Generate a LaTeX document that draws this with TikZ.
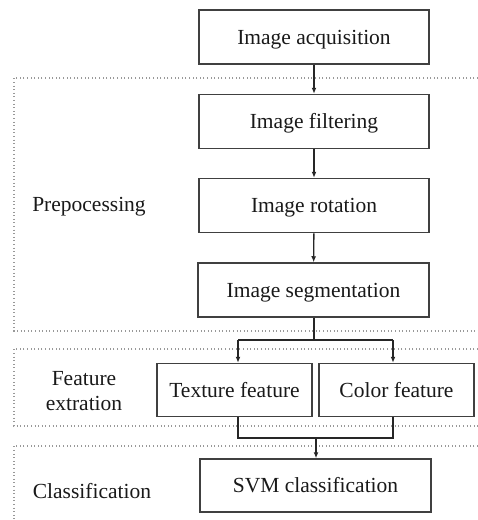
\documentclass[tikz,border=0pt]{standalone}
\usepackage{fontspec}
\setmainfont{Liberation Serif}
\usetikzlibrary{
  positioning,
  arrows.meta,
  calc,
  }

\begin{document}
\begin{tikzpicture}[x=1pt,y=-1pt,
    every node/.style={font=\fontsize{21.5}{25}\selectfont, text=black!90},
    stage/.style={draw=black!75, line width=1.5pt, minimum height=54pt, inner sep=0pt,
      text height=14pt, text depth=0pt},
    zone/.style={draw=black!40, line width=1.1pt, dash pattern=on 1pt off 2.6pt},
    link/.style={draw=black!85, line width=1.4pt},
    flow/.style={link, -{Latex[length=6pt,width=5pt]}}]
                \useasboundingbox (0,0) rectangle (478,520);
                % dotted stage areas
                \draw[zone] (478,78) -- (14,78) -- (14,331) -- (478,331);
                \draw[zone] (478,349) -- (14,349) -- (14,426) -- (478,426);
                \draw[zone] (478,446) -- (14,446) -- (14,520);
                % area labels
                \node (pre) at (89,207) {Prepocessing};
                \node[align=center] (feat) at (84,391) {Feature\\extration};
                \node (cls) at (92,491) {Classification};
                % steps
                \node[stage, minimum width=230pt] (acq) at (314,37) {Image acquisition};
                \node[stage, minimum width=230pt] (filt) at (314,121.5) {Image filtering};
                \node[stage, minimum width=230pt] (rot) at (314,205.5) {Image rotation};
                \node[stage, minimum width=231pt] (seg) at (313.5,290) {Image segmentation};
                \node[stage, minimum width=155pt, minimum height=53pt] (tex) at (234.5,390) {Texture feature};
                \node[stage, minimum width=155pt, minimum height=53pt] (col) at (396.5,390) {Color feature};
                \node[stage, minimum width=231pt, minimum height=53pt] (svm) at (315.5,485.5) {SVM classification};
                % connectors
                \draw[flow] (acq) -- (filt);
                \draw[flow] (filt) -- (rot);
                \draw[flow] (rot) -- (seg);
                \coordinate (fork) at (314,340);
                \coordinate (forkl) at (238,340);
                \coordinate (forkr) at (393,340);
                \draw[link] (seg.south -| fork) -- (fork);
                \draw[link] (forkl) -- (forkr);
                \draw[flow] (forkl) -- (forkl |- tex.north);
                \draw[flow] (forkr) -- (forkr |- col.north);
                \coordinate (joinl) at (238,438);
                \coordinate (joinr) at (393,438);
                \coordinate (join) at (316,438);
                \draw[link] (tex.south -| joinl) -- (joinl) -- (joinr) -- (col.south -| joinr);
                \draw[flow] (join) -- (join |- svm.north);
            \end{tikzpicture}
\end{document}
